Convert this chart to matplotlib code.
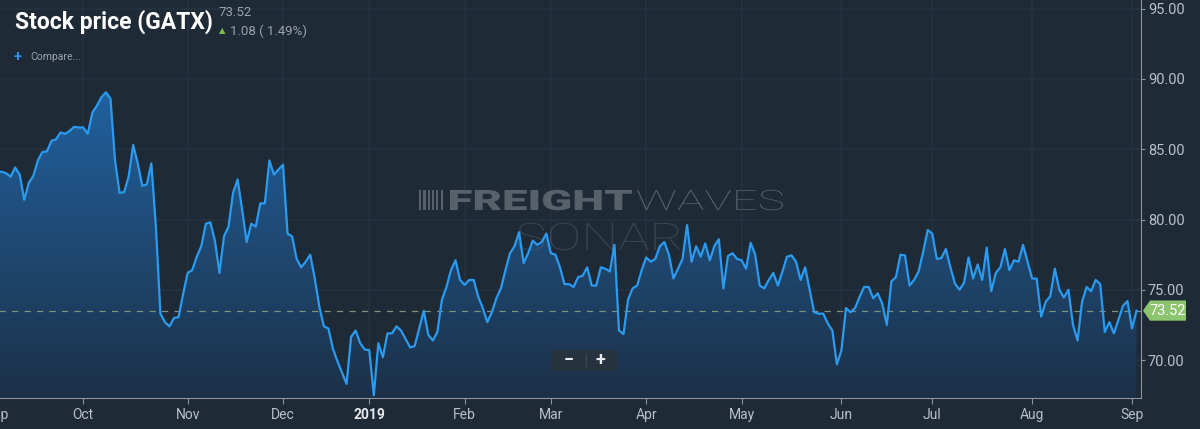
import matplotlib
matplotlib.use("Agg")
import matplotlib.pyplot as plt
import matplotlib.transforms as mtransforms
from matplotlib.patches import Polygon, FancyBboxPatch, PathPatch, Rectangle
from matplotlib.textpath import TextPath
from matplotlib.font_manager import FontProperties
import numpy as np

# GATX closing prices, one per trading day, Sep 2018 - Sep 2019
prices = [
    83.4, 83.4, 83.3, 83.05, 83.7, 83.2, 81.4, 82.6, 83.1, 84.2,
    84.8, 84.85, 85.6, 85.7, 86.2, 86.1, 86.3, 86.6, 86.55, 86.55,
    86.1, 87.6, 88.1, 88.7, 89.05, 88.6, 84.2, 81.9, 81.95, 83.05,
    85.3, 84.0, 82.4, 82.5, 84.0, 79.5, 73.3, 72.7, 72.4, 73.0,
    73.05, 74.7, 76.2, 76.4, 77.35, 78.1, 79.7, 79.8, 78.5, 76.2,
    78.8, 79.5, 81.9, 82.85, 80.7, 78.4, 79.7, 79.5, 81.15, 81.15,
    84.2, 83.2, 83.55, 83.9, 79.0, 78.8, 77.2, 76.6, 77.0, 77.5,
    75.8, 73.8, 72.4, 72.25, 70.8, 69.9, 69.1, 68.3, 71.65, 72.1,
    71.2, 70.75, 70.7, 67.5, 71.2, 70.2, 71.9, 71.9, 72.4, 72.1,
    71.5, 70.9, 71.0, 72.25, 73.5, 71.8, 71.4, 72.0, 74.3, 75.2,
    76.4, 77.1, 75.7, 75.35, 75.7, 75.7, 74.5, 73.7, 72.7, 73.4,
    74.4, 75.1, 76.4, 77.6, 78.1, 79.1, 76.9, 77.6, 78.5, 78.2,
    78.4, 79.0, 77.6, 77.5, 76.6, 75.4, 75.4, 75.2, 75.9, 76.0,
    76.6, 75.3, 75.3, 76.6, 76.5, 76.3, 78.2, 72.1, 71.85, 74.3,
    75.1, 75.3, 76.4, 77.3, 77.0, 77.2, 78.1, 78.4, 77.5, 75.8,
    76.5, 77.2, 79.6, 77.0, 78.1, 77.35, 78.3, 77.1, 78.1, 78.6,
    75.1, 77.4, 77.6, 77.2, 77.1, 76.5, 78.35, 77.5, 75.3, 75.1,
    75.7, 76.2, 75.3, 76.3, 77.35, 77.45, 77.0, 75.7, 76.6, 75.0,
    73.4, 73.3, 73.3, 72.6, 72.1, 69.7, 70.7, 73.7, 73.4, 73.7,
    74.5, 75.2, 75.2, 74.4, 74.75, 74.0, 72.5, 75.6, 75.9, 77.5,
    77.45, 75.3, 75.7, 76.3, 77.7, 79.25, 79.0, 77.2, 77.25, 77.9,
    76.6, 75.45, 75.0, 75.5, 77.3, 75.8, 76.8, 75.7, 78.0, 74.9,
    76.2, 76.6, 77.9, 76.4, 77.1, 77.0, 78.2, 77.0, 75.8, 75.8,
    73.1, 74.15, 74.55, 76.5, 75.0, 74.45, 75.0, 72.5, 71.4, 74.15,
    75.2, 74.9, 75.7, 75.4, 72.0, 72.7, 71.9, 72.85, 73.85, 74.2,
    72.25, 73.52,
]
last_price = 73.52
change = 1.08
change_pct = 1.49

# month labels and the trading-day index where each month starts
month_labels = ["Sep", "Oct", "Nov", "Dec", "2019", "Feb", "Mar", "Apr",
                "May", "Jun", "Jul", "Aug", "Sep"]
month_pos = [0, 19, 42, 63, 82, 103, 122, 143, 164, 186, 206, 228, 250]
y_ticks = [70, 75, 80, 85, 90, 95]

BG = "#1e2a36"
GRID = "#25323f"
LINE = "#2a9bf0"
TXT = "#b9c0c7"
AXIS = "#8d959d"

plt.rcParams["font.family"] = ["Roboto", "DejaVu Sans"]

W, H = 1200, 429
fig = plt.figure(figsize=(W / 100, H / 100), dpi=100)
fig.patch.set_facecolor(BG)

left_px, right_px, bottom_px = -20, 1141, 398
ax = fig.add_axes([left_px / W, (H - bottom_px) / H,
                   (right_px - left_px) / W, bottom_px / H])
ax.set_facecolor(BG)

x = np.arange(len(prices))
y = np.array(prices)
ax.set_xlim(-3.74, 251.98)
ax.set_ylim(67.3, 95.62)

# pixel transform, origin top-left of the figure
pix = mtransforms.Affine2D().scale(1 / W, -1 / H).translate(0, 1) + fig.transFigure

# gradient fill under the line
ymin, ymax = ax.get_ylim()
grad = np.linspace(0, 1, 256)
c_top = np.array([0.13, 0.38, 0.62])
c_bot = np.array([0.11, 0.19, 0.28])
top_v = max(prices)
img = np.zeros((256, 1, 3))
for k in range(3):
    img[:, 0, k] = c_bot[k] + (c_top[k] - c_bot[k]) * grad
im = ax.imshow(img, extent=[x[0], x[-1], ymin, top_v], origin="lower",
               aspect="auto", zorder=1)
clip = Polygon(np.vstack([[x[0], ymin], np.column_stack([x, y]), [x[-1], ymin]]),
               closed=True, transform=ax.transData, facecolor="none")
im.set_clip_path(clip)
ax.set_xlim(-3.74, 251.98)
ax.set_ylim(67.3, 95.62)


def stretched_text(s, x0, y_base, width, cap, weight, color, alpha):
    # text drawn as a path, scaled to a given pixel width and cap height
    tp = TextPath((0, 0), s, size=1, prop=FontProperties(family="Roboto", weight=weight))
    ext = tp.get_extents()
    sx = width / ext.width
    sy = cap / 0.711
    t = mtransforms.Affine2D().translate(-ext.x0, 0).scale(sx, -sy).translate(x0, y_base)
    patch = PathPatch(tp, transform=t + pix, facecolor=color, edgecolor="none",
                      alpha=alpha, zorder=2)
    ax.add_patch(patch)


# watermark
stretched_text("FREIGHT", 450, 210, 182, 20, "black", "#6c747c", 0.75)
stretched_text("WAVES", 637, 210, 146, 20, "light", "#6c747c", 0.75)
stretched_text("SONAR", 518, 250, 162, 27, "light", "#56606a", 0.5)
for i in range(6):
    ax.add_patch(Rectangle((419 + i * 4.3, 190), 2.2, 20, transform=pix,
                           facecolor="#6c747c", edgecolor="none", alpha=0.75,
                           zorder=2))

ax.plot(x, y, color=LINE, lw=1.6, zorder=4)

# last price dashed line
ax.axhline(last_price, color="#7f937a", lw=0.9, ls=(0, (5, 5)), zorder=3)

# grid
for p in month_pos:
    ax.axvline(p, color=GRID, lw=1.2, zorder=0.5)
for v in y_ticks:
    ax.axhline(v, color=GRID, lw=1.2, zorder=0.5)

# axes
for s in ["top", "left"]:
    ax.spines[s].set_visible(False)
ax.spines["bottom"].set_color(AXIS)
ax.spines["right"].set_color(AXIS)
ax.yaxis.tick_right()
ax.set_yticks(y_ticks)
ax.set_yticklabels([f"{v:.2f}" for v in y_ticks])
ax.set_xticks(month_pos)
ax.set_xticklabels(month_labels)
ax.tick_params(axis="y", colors=AXIS, labelcolor=TXT, labelsize=10.5,
               length=3, pad=2)
ax.tick_params(axis="x", colors=AXIS, labelcolor=TXT, labelsize=10,
               length=4, pad=3)
for lab in ax.get_xticklabels():
    if lab.get_text() == "2019":
        lab.set_fontweight("bold")
        lab.set_color("#e6e9ec")

# last price badge
tr = mtransforms.blended_transform_factory(ax.transAxes, ax.transData)
ax_w = right_px - left_px
bx0 = 1.0 + 2 / ax_w
bx1 = 1.0 + 9 / ax_w
bx2 = 1.0 + 45 / ax_w
hh = 0.72
badge = Polygon([[bx0, last_price], [bx1, last_price + hh], [bx2, last_price + hh],
                 [bx2, last_price - hh], [bx1, last_price - hh]],
                closed=True, transform=tr, facecolor="#8cc56f", edgecolor="none",
                clip_on=False, zorder=6)
ax.add_patch(badge)
ax.text((bx1 + bx2) / 2, last_price, f"{last_price:.2f}", transform=tr,
        ha="center", va="center", color="white", fontsize=10.5, zorder=7,
        clip_on=False)

# zoom buttons
btn = FancyBboxPatch((551, 350), 66, 21, boxstyle="round,pad=0,rounding_size=3",
                     transform=pix, facecolor="#26323e", edgecolor="none",
                     zorder=8)
fig.patches.append(btn)
fig.text(569 / W, (H - 360) / H, "−", color="#e8ebee", fontsize=13,
         fontweight="bold", ha="center", va="center", zorder=9)
fig.text(600 / W, (H - 360) / H, "+", color="#e8ebee", fontsize=13,
         fontweight="bold", ha="center", va="center", zorder=9)
fig.lines.append(plt.Line2D([586, 586], [354, 367], transform=pix,
                            color="#3a4652", lw=1, zorder=9))

# header
fig.text(15 / W, (H - 22) / H, "Stock price (GATX)", color="white",
         fontsize=16.5, fontweight="bold", ha="left", va="center")
fig.text(218 / W, (H - 12) / H, f"{last_price:.2f}", color="#9aa3ab",
         fontsize=9.5, ha="left", va="center")
fig.text(219 / W, (H - 31) / H, "▲", color="#7cc243", fontsize=6,
         ha="left", va="center", family=["DejaVu Sans"])
fig.text(230 / W, (H - 31) / H, f"{change:.2f} ( {change_pct:.2f}%)",
         color="#9aa3ab", fontsize=9.5, ha="left", va="center")
fig.text(14 / W, (H - 57) / H, "+", color="#2f8ff0", fontsize=10.5,
         fontweight="bold", ha="left", va="center")
fig.text(30 / W, (H - 57) / H, "Compare...", color="#9aa3ab", fontsize=7.5,
         ha="left", va="center")

fig.savefig("out.png", dpi=100, facecolor=BG)
